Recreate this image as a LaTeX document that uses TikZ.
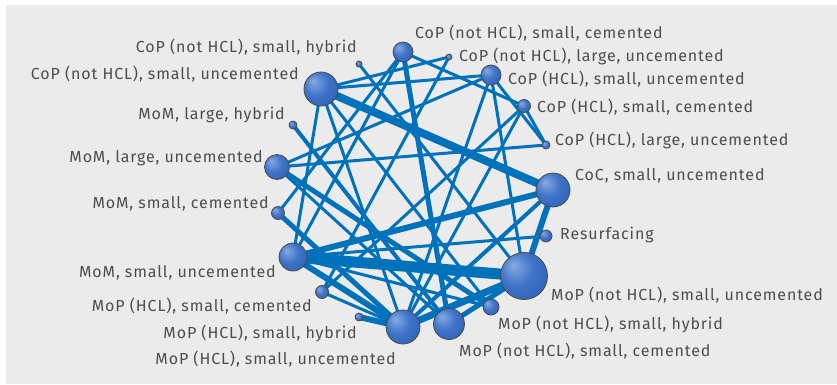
\documentclass[tikz,border=0pt]{standalone}
\usepackage{fontspec}
\setmainfont{Fira Sans}[LetterSpace=5.5]
\usetikzlibrary{backgrounds}

\definecolor{panelgray}{RGB}{235,235,235}
\definecolor{linkblue}{RGB}{0,114,187}
\definecolor{sphLight}{RGB}{135,170,225}
\definecolor{sphMid}{RGB}{62,115,200}
\definecolor{sphDark}{RGB}{42,92,172}
\definecolor{rimgray}{RGB}{75,75,75}
\definecolor{textgray}{RGB}{77,77,77}
\pgfdeclareradialshading{sphere}{\pgfpoint{-12bp}{12bp}}{color(0bp)=(sphLight); color(18bp)=(sphMid); color(40bp)=(sphDark); color(50bp)=(sphDark)}

\begin{document}
\begin{tikzpicture}[
		x=1pt, y=-1pt,
		% Define styles for the network
		bubble/.style={circle, draw=rimgray, line width=0.8pt, shading=sphere, inner sep=0pt, minimum size=#1},
		tag/.style={text=textgray, font=\fontsize{16}{18}\selectfont, inner sep=0pt},
		link/.style={draw=linkblue, line width=#1}
	]

	\useasboundingbox (0,0) rectangle (837,384);

	% Treatments on the circle
	\node[bubble=20pt] (A) at (403,52) {};
	\node[bubble=6pt]  (B) at (449,57) {};
	\node[bubble=20pt] (C) at (491,75) {};
	\node[bubble=13pt] (D) at (524,106) {};
	\node[bubble=8pt]  (E) at (546,145) {};
	\node[bubble=34pt] (F) at (553,190) {};
	\node[bubble=12pt] (G) at (546,236) {};
	\node[bubble=47pt] (H) at (524,276) {};
	\node[bubble=16pt] (I) at (491,307) {};
	\node[bubble=31pt] (J) at (449,324) {};
	\node[bubble=34pt] (K) at (403,327) {};
	\node[bubble=8pt]  (L) at (359,317) {};
	\node[bubble=13pt] (M) at (322,292) {};
	\node[bubble=28pt] (N) at (293,257) {};
	\node[bubble=13pt] (O) at (278,213) {};
	\node[bubble=25pt] (P) at (277,167) {};
	\node[bubble=8pt]  (Q) at (293,125) {};
	\node[bubble=34pt] (R) at (321,89) {};
	\node[bubble=6pt]  (S) at (359,64) {};

	% Labels
	\node[tag, anchor=base west] (tA) at (415,38) {CoP (not HCL), small, cemented};
	\node[tag, anchor=base west] (tB) at (459,61) {CoP (not HCL), large, uncemented};
	\node[tag, anchor=base west] (tC) at (508,84) {CoP (HCL), small, uncemented};
	\node[tag, anchor=base west] (tD) at (537,112) {CoP (HCL), small, cemented};
	\node[tag, anchor=base west] (tE) at (555,145) {CoP (HCL), large, uncemented};
	\node[tag, anchor=base west] (tF) at (575,180) {CoC, small, uncemented};
	\node[tag, anchor=base west] (tG) at (560,239) {Resurfacing};
	\node[tag, anchor=base west] (tH) at (551,300) {MoP (not HCL), small, uncemented};
	\node[tag, anchor=base west] (tI) at (498,329) {MoP (not HCL), small, hybrid};
	\node[tag, anchor=base west] (tJ) at (459,356) {MoP (not HCL), small, cemented};
	\node[tag, anchor=base east] (tK) at (396,364) {MoP (HCL), small, uncemented};
	\node[tag, anchor=base east] (tL) at (357,338) {MoP (HCL), small, hybrid};
	\node[tag, anchor=base east] (tM) at (312,311) {MoP (HCL), small, cemented};
	\node[tag, anchor=base east] (tN) at (276,277) {MoM, small, uncemented};
	\node[tag, anchor=base east] (tO) at (269,208) {MoM, small, cemented};
	\node[tag, anchor=base east] (tP) at (263,162) {MoM, large, uncemented};
	\node[tag, anchor=base east] (tQ) at (285,119) {MoM, large, hybrid};
	\node[tag, anchor=base east] (tR) at (299,79) {CoP (not HCL), small, uncemented};
	\node[tag, anchor=base east] (tS) at (357,52) {CoP (not HCL), small, hybrid};

	\begin{pgfonlayer}{background}
		\fill[white] (0,0) rectangle (837,384);
		\fill[panelgray] (6,5) rectangle (837,384);
		% Comparisons, width by number of trials
		\foreach \a/\b/\w in {R/F/8, N/H/11, N/F/6, K/H/7, J/H/5, F/H/6, A/J/5, L/K/6,
				N/K/6, P/I/5, O/K/5, Q/J/4, R/C/3, R/B/3, R/K/3, R/N/3, R/I/3, P/E/3,
				P/C/3, P/J/3, O/A/3, N/G/3, N/I/3, S/H/3, A/D/3, A/N/3, C/K/3, C/H/3,
				C/E/3, D/E/3, D/M/3, M/B/3, M/K/3, F/K/4, D/K/3}
			\draw[link=\w pt] (\a.center) -- (\b.center);
	\end{pgfonlayer}
\end{tikzpicture}
\end{document}
